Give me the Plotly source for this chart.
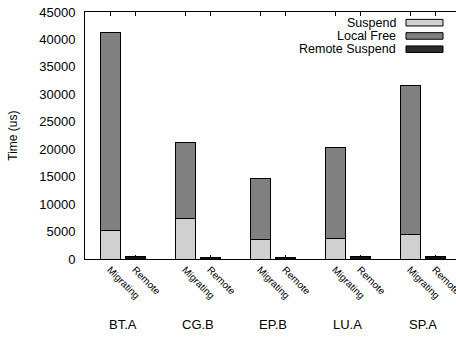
import plotly.graph_objects as go

benchmarks = ["BT.A", "CG.B", "EP.B", "LU.A", "SP.A"]
suspend = [5250, 7450, 3500, 3800, 4400]
total_migrating = [41350, 21300, 14600, 20330, 31600]
local_free = [t - s for t, s in zip(total_migrating, suspend)]
remote_suspend = [380, 350, 350, 420, 380]
bar_labels = ["Migrating", "Remote"]
y_ticks = [0, 5000, 10000, 15000, 20000, 25000, 30000, 35000, 40000, 45000]

colors = {"Suspend": "#d0d0d0", "Local Free": "#808080", "Remote Suspend": "#2b2b2b"}
FONT = "Liberation Sans, Arial, sans-serif"

mig_x = [i * 3 for i in range(len(benchmarks))]
rem_x = [i * 3 + 1 for i in range(len(benchmarks))]

fig = go.Figure()
fig.add_bar(x=mig_x, y=suspend, name="Suspend", width=0.8,
            marker=dict(color=colors["Suspend"], line=dict(color="black", width=1)))
fig.add_bar(x=mig_x, y=local_free, name="Local Free", width=0.8,
            marker=dict(color=colors["Local Free"], line=dict(color="black", width=1)))
fig.add_bar(x=rem_x, y=remote_suspend, name="Remote Suspend", width=0.8,
            marker=dict(color="#111111", line=dict(color="black", width=1)))

tickvals = []
ticktext = []
for m, r in zip(mig_x, rem_x):
    tickvals += [m, r]
    ticktext += bar_labels

W, H = 456, 337
L, T, B = 85, 12, 77.5
plot_h = H - T - B
plot_w = W - L

def py(p):
    return (H - B - p) / plot_h

def px(p):
    return (p - L) / plot_w

annotations = []
for name, m, r in zip(benchmarks, mig_x, rem_x):
    annotations.append(dict(x=(m + r) / 2, y=py(325), xref="x", yref="paper",
                            text=name, showarrow=False, xanchor="center", yanchor="middle",
                            font=dict(family=FONT, size=13, color="black")))

annotations.append(dict(x=px(13), y=py(136), xref="paper", yref="paper", text="Time (us)",
                        textangle=-90, showarrow=False, xanchor="center", yanchor="middle",
                        font=dict(family=FONT, size=12, color="black")))

shapes = []
legend_items = [("Suspend", 22.7), ("Local Free", 36), ("Remote Suspend", 49.3)]
for name, yc in legend_items:
    annotations.append(dict(x=px(398), y=py(yc), xref="paper", yref="paper", text=name,
                            showarrow=False, xanchor="right", yanchor="middle",
                            font=dict(family=FONT, size=12.5, color="black")))
    shapes.append(dict(type="rect", xref="paper", yref="paper",
                       x0=px(406), x1=px(443), y0=py(yc + 3.3), y1=py(yc - 3.3),
                       fillcolor=colors[name], line=dict(color="black", width=1)))

fig.update_layout(
    width=W, height=H,
    margin=dict(l=L, r=0, t=T, b=B, pad=0),
    barmode="stack",
    showlegend=False,
    plot_bgcolor="white", paper_bgcolor="white",
    font=dict(family=FONT, size=12, color="black"),
    annotations=annotations,
    shapes=shapes,
    xaxis=dict(range=[-1, (W - L) / 25 - 1], tickvals=tickvals, ticktext=ticktext,
               tickangle=45, tickfont=dict(size=10, family=FONT, color="black"),
               ticks="inside", ticklen=4, tickcolor="black", automargin=False,
               ticklabeloverflow="allow",
               showline=True, linecolor="black", linewidth=1, mirror="ticks",
               showgrid=False, zeroline=False, layer="below traces"),
    yaxis=dict(range=[0, 45000], tickvals=y_ticks, ticktext=[str(v) for v in y_ticks],
               ticks="", showgrid=False, automargin=False, ticklabelstandoff=6,
               zeroline=False, showline=True, linecolor="black", linewidth=1,
               tickfont=dict(size=13, family=FONT, color="black")),
)

fig.write_html("out.html")
